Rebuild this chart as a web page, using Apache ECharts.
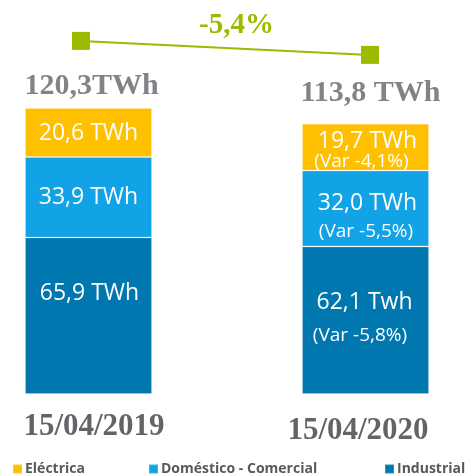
<!DOCTYPE html>
<html>
<head>
<meta charset="utf-8">
<script src="https://cdn.jsdelivr.net/npm/echarts@6/dist/echarts.min.js"></script>
<style>html,body{margin:0;padding:0;background:#fff}#c{width:467px;height:476px}</style>
</head>
<body>
<div id="c"></div>
<script>
var categories = ['15/04/2019', '15/04/2020'];
var seriesNames = ['Eléctrica', 'Doméstico - Comercial', 'Industrial'];
var electrica = [20.6, 19.7];
var domestico = [33.9, 32.0];
var industrial = [65.9, 62.1];
var totals = [120.3, 113.8];
var totalLabels = ['120,3TWh', '113,8 TWh'];
var electricaLabels = ['20,6 TWh', '19,7 TWh'];
var domesticoLabels = ['33,9 TWh', '32,0 TWh'];
var industrialLabels = ['65,9 TWh', '62,1 Twh'];
var electricaVar = ['', '(Var -4,1%)'];
var domesticoVar = ['', '(Var -5,5%)'];
var industrialVar = ['', '(Var -5,8%)'];
var changeLabel = '-5,4%';

var colors = ['#FFC000', '#12A3E6', '#0077AE'];
var green = '#9BBB00';
var gray = '#636468';
var sans = '"Open Sans", sans-serif';
var serif = '"Liberation Serif", serif';

// label placement per bar segment (styling only)
var labelOffsets = {
  e: [[0, 1], [2, 4.5]],
  d: [[0, 0], [2, 9]],
  i: [[1, -22], [-1, -1.5]]
};
var lineHeights = {e: 20, d: 29, i: 33};
var varPad = {e: [0, 12, 0, 0], d: [0, 3, 0, 0], i: [0, 9, 0, 0]};

function buildData(values, labels, vars, key) {
  return values.map(function (v, i) {
    var txt = '{a|' + labels[i] + '}' + (vars[i] ? '\n{b|' + vars[i] + '}' : '');
    return {
      value: v,
      label: {
        formatter: txt,
        offset: labelOffsets[key][i],
        rich: {
          a: {color: '#fff', fontFamily: sans, fontSize: 23, lineHeight: lineHeights[key]},
          b: {color: '#fff', fontFamily: sans, fontSize: 19, lineHeight: lineHeights[key], padding: varPad[key]}
        }
      }
    };
  });
}

var chart = echarts.init(document.getElementById('c'), null, {renderer: 'canvas'});

var legendBase = function (name, left) {
  return {
    data: [name], left: left, top: 462, padding: 0, itemWidth: 9, itemHeight: 9, itemGap: 0,
    icon: 'rect', selectedMode: false,
    textStyle: {color: '#595959', fontFamily: sans, fontWeight: 'bold', fontSize: 14, padding: [0, 0, 0, -2]}
  };
};

chart.setOption({
  animation: false,
  backgroundColor: '#fff',
  title: {
    text: changeLabel, left: 199, top: 11, padding: 0,
    textStyle: {color: green, fontFamily: serif, fontWeight: 'bold', fontSize: 29}
  },
  legend: [
    legendBase(seriesNames[0], 12),
    legendBase(seriesNames[1], 148),
    legendBase(seriesNames[2], 384)
  ],
  grid: [
    {left: 88.5, right: 101.5, top: 14, bottom: 82},
    {left: 81, right: 97, top: 20, height: 64.6}
  ],
  xAxis: [
    {
      type: 'category', gridIndex: 0, boundaryGap: false,
      data: [
        {value: categories[0], textStyle: {padding: [0, 0, 0, 11]}},
        {value: categories[1], textStyle: {padding: [4, 15, 0, 0]}}
      ],
      axisLine: {show: false}, axisTick: {show: false},
      axisLabel: {margin: 17, color: gray, fontFamily: serif, fontWeight: 'bold', fontSize: 31, interval: 0}
    },
    {type: 'category', gridIndex: 1, boundaryGap: false, data: categories, show: false}
  ],
  yAxis: [
    {type: 'value', gridIndex: 0, min: 0, max: 160, show: false, splitLine: {show: false}},
    {type: 'value', gridIndex: 1, min: 100, max: 130, show: false, splitLine: {show: false}}
  ],
  series: [
    {
      name: seriesNames[2], type: 'bar', stack: 'total', barWidth: 127, clip: false,
      itemStyle: {color: colors[2], borderColor: 'rgba(255,255,255,0.18)', borderWidth: 1},
      label: {show: true, position: 'inside'},
      data: buildData(industrial, industrialLabels, industrialVar, 'i')
    },
    {
      name: seriesNames[1], type: 'bar', stack: 'total', barWidth: 127, clip: false,
      itemStyle: {color: colors[1], borderColor: 'rgba(255,255,255,0.18)', borderWidth: 1},
      label: {show: true, position: 'inside'},
      data: buildData(domestico, domesticoLabels, domesticoVar, 'd')
    },
    {
      name: seriesNames[0], type: 'bar', stack: 'total', barWidth: 127, clip: false,
      itemStyle: {color: colors[0], borderColor: 'rgba(255,255,255,0.18)', borderWidth: 1},
      label: {show: true, position: 'inside'},
      data: buildData(electrica, electricaLabels, electricaVar, 'e')
    },
    {
      name: 'totales', type: 'scatter', symbolSize: 0, clip: false, silent: true,
      data: totals.map(function (v, i) {
        return {
          value: v,
          label: {
            show: true, position: 'inside', formatter: totalLabels[i],
            offset: i === 0 ? [3, -22] : [5, -30],
            color: gray, fontFamily: serif, fontWeight: 'bold', fontSize: 30
          }
        };
      })
    },
    {
      name: 'variacion', type: 'line', xAxisIndex: 1, yAxisIndex: 1, clip: false,
      symbol: 'rect', symbolSize: 18,
      lineStyle: {color: green, width: 2},
      itemStyle: {color: green},
      data: totals
    }
  ]
});
</script>
</body>
</html>
